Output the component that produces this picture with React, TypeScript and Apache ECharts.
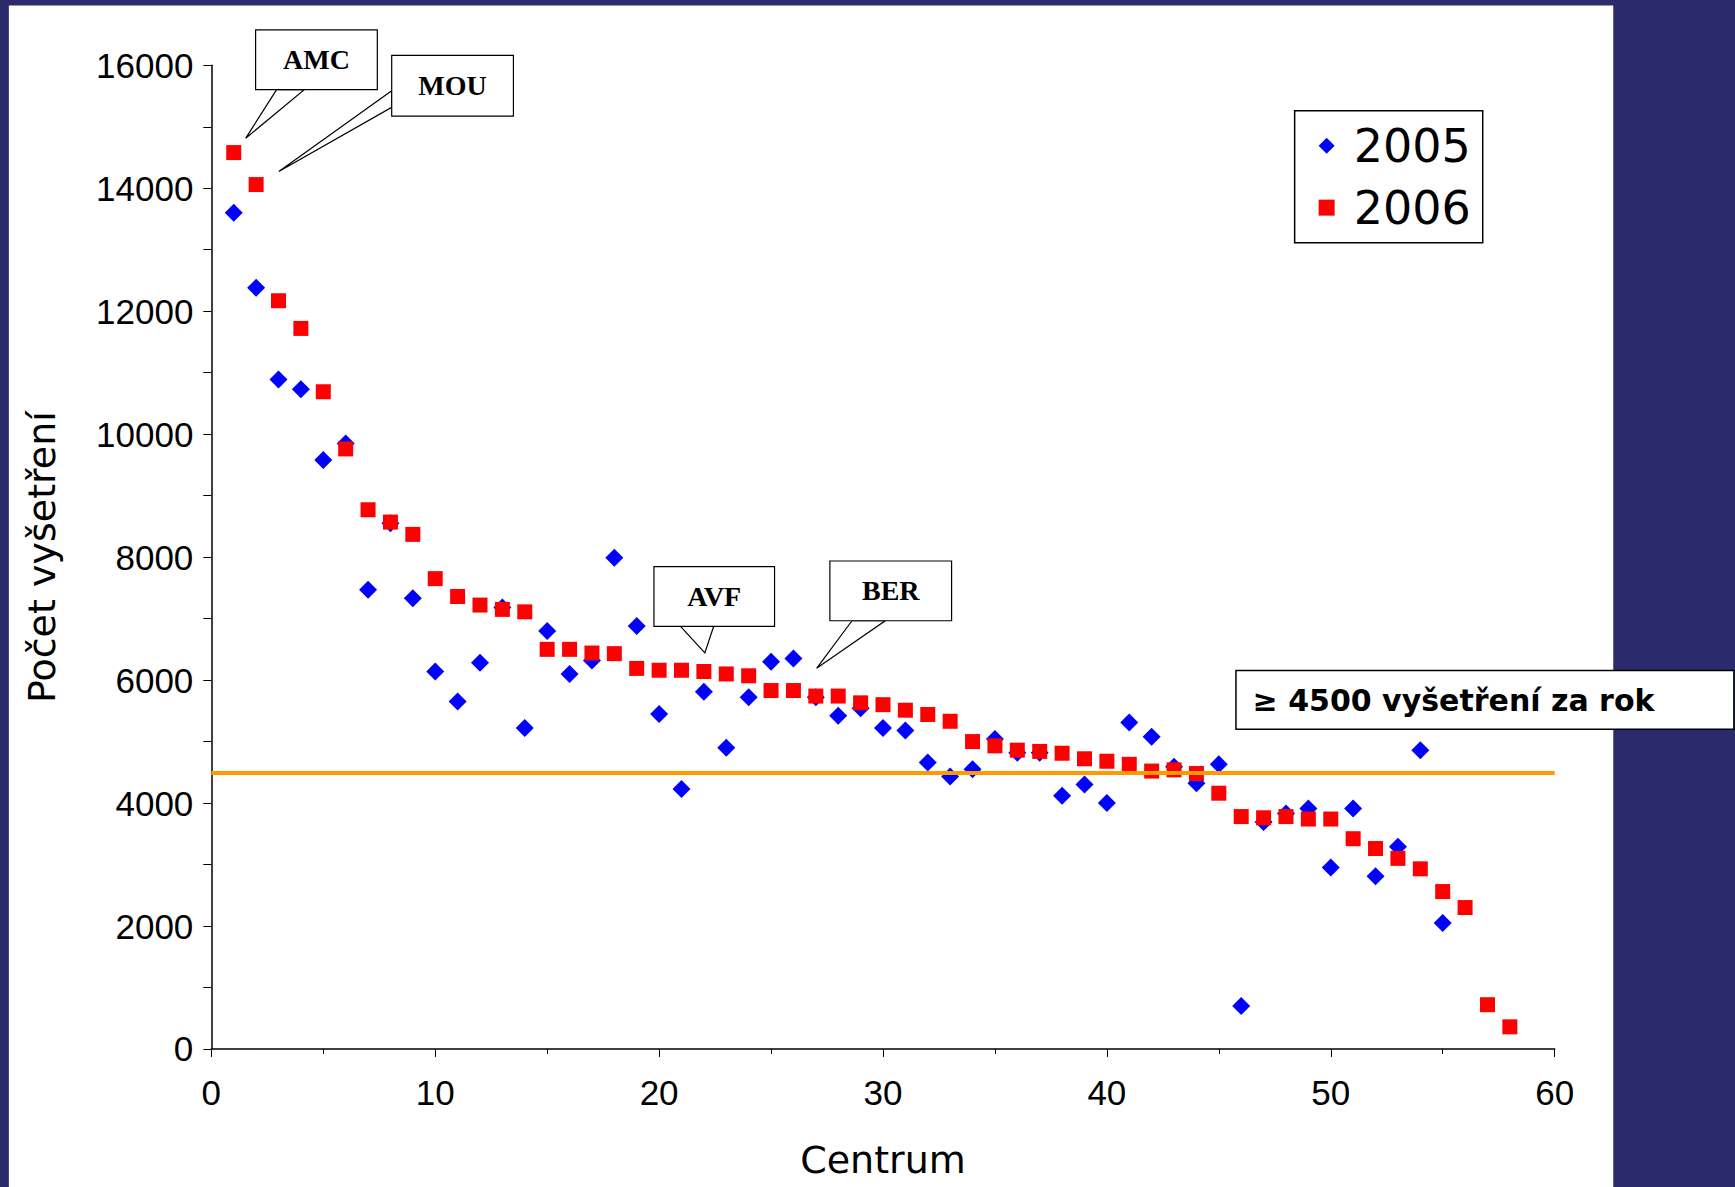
import * as echarts from "echarts";
import React, { useEffect, useRef } from "react";

// values
const counts2005 = [
  13600, 12380, 10890, 10730, 9580, 9850, 7470, 8550, 7330, 6140,
  5650, 6280, 7180, 5220, 6800, 6100, 6320, 7990, 6880, 5450,
  4230, 5810, 4900, 5720, 6300, 6350, 5720, 5420, 5540, 5220,
  5180, 4660, 4430, 4550, 5040, 4820, 4820, 4120, 4300, 4000,
  5310, 5080, 4590, 4320, 4630, 700, 3690, 3830, 3910, 2950,
  3910, 2810, 3290, 4860, 2050,
];
const counts2006 = [
  14580, 14060, 12170, 11720, 10690, 9760, 8770, 8570, 8370, 7650,
  7360, 7220, 7150, 7110, 6500, 6500, 6440, 6430, 6190, 6160,
  6160, 6140, 6100, 6070, 5830, 5830, 5740, 5740, 5630, 5600,
  5510, 5440, 5330, 5000, 4930, 4860, 4840, 4810, 4720, 4680,
  4630, 4520, 4540, 4480, 4160, 3780, 3760, 3780, 3740, 3740,
  3420, 3260, 3100, 2930, 2560, 2300, 720, 360,
];
const threshold = 4500;
const callouts = ["AMC", "MOU", "AVF", "BER"];

const S = 1735 / 1568;
const p = (v: number) => v * S;

const callout = (label: string, box: number[], pointer: number[][]) => [
  {
    type: "polygon",
    shape: { points: pointer.map(([x, y]) => [p(x), p(y)]) },
    style: { fill: "#fff", stroke: "#000", lineWidth: 1.2 },
    z: 10,
  },
  {
    type: "rect",
    shape: { x: p(box[0]), y: p(box[1]), width: p(box[2] - box[0]), height: p(box[3] - box[1]) },
    style: { fill: "#fff", stroke: "#000", lineWidth: 1.2 },
    z: 11,
  },
  {
    type: "text",
    x: p((box[0] + box[2]) / 2),
    y: p((box[1] + box[3]) / 2),
    style: {
      text: label, font: "bold 28px 'Liberation Serif'", fill: "#000",
      align: "center", verticalAlign: "middle",
    },
    z: 12,
  },
];

const App: React.FC = () => {
  const chartRef = useRef<HTMLDivElement>(null);

  useEffect(() => {
    if (!chartRef.current) return;
    const chart = echarts.init(chartRef.current, null, { renderer: "svg" });

    chart.setOption({
      animation: false,
      backgroundColor: "#2a2a6c",
      textStyle: { fontFamily: "DejaVu Sans" },
      grid: { left: p(191), right: 1735 - p(1405), top: p(59), bottom: 1187 - p(948) },
      legend: {
        right: 1735 - p(1340),
        top: p(100),
        orient: "vertical",
        backgroundColor: "#fff",
        borderColor: "#000",
        borderWidth: 1.5,
        padding: [12, 12, 12, 24],
        itemGap: 16,
        itemWidth: 16,
        itemHeight: 16,
        textStyle: { fontSize: 46, color: "#000", fontFamily: "DejaVu Sans", padding: [0, 0, 0, 14] },
        data: [
          { name: "2005", icon: "diamond" },
          { name: "2006", icon: "rect" },
        ],
      },
      xAxis: {
        type: "value",
        min: 0, max: 60, interval: 10,
        name: "Centrum",
        nameLocation: "middle",
        nameGap: 92,
        nameTextStyle: { fontSize: 38, color: "#000" },
        axisLine: { lineStyle: { color: "#000", width: 1.5 } },
        axisTick: { inside: false, length: 8, lineStyle: { color: "#000" } },
        minorTick: { show: true, splitNumber: 2, length: 5, lineStyle: { color: "#000" } },
        axisLabel: { fontSize: 35, color: "#000", margin: 26, fontFamily: "Liberation Sans" },
        splitLine: { show: false },
      },
      yAxis: {
        type: "value",
        min: 0, max: 16000, interval: 2000,
        name: "Počet vyšetření",
        nameLocation: "middle",
        nameGap: 150,
        nameTextStyle: { fontSize: 38, color: "#000" },
        axisLine: { show: true, lineStyle: { color: "#000", width: 1.5 } },
        axisTick: { show: true, length: 8, lineStyle: { color: "#000" } },
        minorTick: { show: true, splitNumber: 2, length: 8, lineStyle: { color: "#000" } },
        axisLabel: {
          fontSize: 35, color: "#000", margin: 18, fontFamily: "Liberation Sans",
          formatter: (v: number) => String(v),
        },
        splitLine: { show: false },
      },
      graphic: [
        {
          type: "rect",
          shape: { x: p(8), y: p(5), width: p(1450), height: 1187 },
          style: { fill: "#fff" },
          z: -10,
        },
        ...callout(callouts[0], [231, 27, 341, 81], [[250, 81], [222, 125], [275, 81]]),
        ...callout(callouts[1], [354, 50, 464, 105], [[354, 82], [252, 155], [354, 97]]),
        ...callout(callouts[2], [591, 512, 700, 566], [[615, 566], [637, 590], [645, 566]]),
        ...callout(callouts[3], [750, 507, 860, 561], [[770, 561], [738, 604], [800, 561]]),
        {
          type: "rect",
          shape: { x: p(1117), y: p(606), width: p(450), height: p(53) },
          style: { fill: "#fff", stroke: "#000", lineWidth: 1.5 },
          z: 11,
        },
        {
          type: "text",
          x: p(1132),
          y: p(633),
          style: {
            text: "≥ 4500 vyšetření za rok", font: "bold 30px 'DejaVu Sans'",
            fill: "#000", verticalAlign: "middle",
          },
          z: 12,
        },
      ],
      series: [
        {
          name: "2005",
          type: "scatter",
          symbol: "diamond",
          symbolSize: 18,
          itemStyle: { color: "#0000ff", opacity: 1 },
          data: counts2005.map((v, i) => [i + 1, v]),
          markLine: {
            silent: true,
            symbol: "none",
            label: { show: false },
            lineStyle: { color: "#ff9900", width: 4, type: "solid" },
            data: [{ yAxis: threshold }],
          },
        },
        {
          name: "2006",
          type: "scatter",
          symbol: "rect",
          symbolSize: 15,
          itemStyle: { color: "#ff0000", opacity: 1 },
          data: counts2006.map((v, i) => [i + 1, v]),
        },
      ],
    });

    return () => chart.dispose();
  }, []);

  return (
    <div
      ref={chartRef}
      style={{ position: "fixed", left: 0, top: 0, width: 1735, height: 1187 }}
    />
  );
};

export default App;
